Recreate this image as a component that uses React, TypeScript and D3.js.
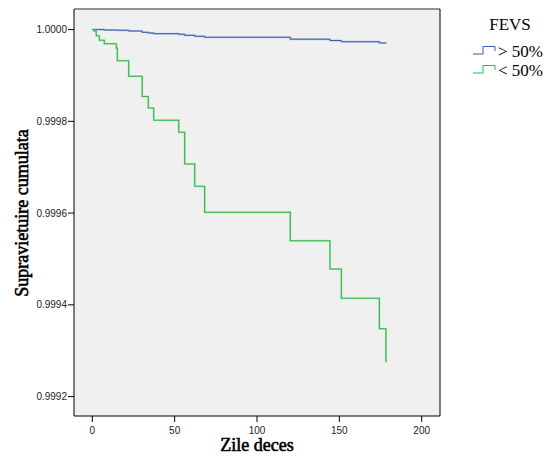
import React from "react";
import * as d3 from "d3";

const W = 556;
const H = 463;

// Kaplan-Meier steps: time (days) and cumulative survival after the event
const lowTimes = [0, 1.2, 2.4, 4.3, 7.3, 14.6, 15.2, 22.1, 30.3, 34.0, 37.3, 52.5, 56.1, 62.2, 68.2, 120.2, 144.3, 151.2, 174.3, 178.3];
const lowSurv = [1, 0.9999963, 0.9999867, 0.9999767, 0.9999693, 0.9999599, 0.9999322, 0.9998982, 0.9998542, 0.9998291, 0.9998023, 0.9997761, 0.999707, 0.9996584, 0.9996018, 0.9995396, 0.9994782, 0.9994143, 0.999348, 0.9992748];

const highTimes = [0, 7.3, 15.2, 22.1, 30.3, 34.0, 37.3, 52.5, 56.1, 62.2, 68.2, 120.2, 144.3, 151.2, 174.3, 178.3];
const highSurv = [1, 0.9999991, 0.9999985, 0.9999969, 0.9999941, 0.9999926, 0.9999911, 0.9999898, 0.9999876, 0.9999854, 0.9999833, 0.9999791, 0.9999762, 0.9999736, 0.9999708, 0.9999702];

const xTicks = [0, 50, 100, 150, 200];
const yTicks = [0.9992, 0.9994, 0.9996, 0.9998, 1.0];

const legendTitle = "FEVS";
const seriesNames = ["> 50%", "< 50%"];
const seriesColors = ["#3E58AC", "#2EB848"];

export default function App() {
  const left = 74, right = 440, top = 9, bottom = 416;
  const x = d3.scaleLinear().domain([-11.1, 211.1]).range([left, right]);
  const y = d3.scaleLinear().domain([0.9991577, 1.0000449]).range([bottom, top]);
  const line = d3
    .line<[number, number]>()
    .x((d) => x(d[0]))
    .y((d) => y(d[1]))
    .curve(d3.curveStepAfter);
  const high = highTimes.map((t, i) => [t, highSurv[i]] as [number, number]);
  const low = lowTimes.map((t, i) => [t, lowSurv[i]] as [number, number]);
  const fmt = d3.format(".4f");
  const sans = "'Liberation Sans', Arial, sans-serif";
  const serif = "Liberation Serif";
  const legendX = 473;
  const legendY = [54, 73];

  return (
    <svg width={W} height={H} style={{ position: "absolute", left: 0, top: 0, background: "#fff" }}>
      <rect x={left} y={top} width={right - left} height={bottom - top} fill="#f0f0f0" />
      <line x1={left} x2={right} y1={top} y2={top} stroke="#707070" strokeWidth={1.6} />
      <line x1={right} x2={right} y1={top} y2={bottom} stroke="#000" strokeWidth={1} />
      <line x1={left} x2={left} y1={top} y2={bottom} stroke="#000" strokeWidth={1} />
      <line x1={left} x2={right} y1={bottom} y2={bottom} stroke="#000" strokeWidth={1} />

      <path d={line(high) || ""} fill="none" stroke="#9aaadc" strokeWidth={2} opacity={0.6} />
      <path d={line(high) || ""} fill="none" stroke={seriesColors[0]} strokeWidth={1} />
      <path d={line(low) || ""} fill="none" stroke="#8fdc9d" strokeWidth={2} opacity={0.6} />
      <path d={line(low) || ""} fill="none" stroke={seriesColors[1]} strokeWidth={1.1} />

      {yTicks.map((t) => (
        <g key={t}>
          <line x1={left - 6} x2={left} y1={y(t)} y2={y(t)} stroke="#000" />
          <text x={left - 7} y={y(t) + 3.5} textAnchor="end" fontFamily={sans} fontSize={10} fill="#222">
            {fmt(t)}
          </text>
        </g>
      ))}
      {xTicks.map((t) => (
        <g key={t}>
          <line x1={x(t)} x2={x(t)} y1={bottom} y2={bottom + 6} stroke="#000" />
          <text x={x(t)} y={bottom + 18} textAnchor="middle" fontFamily={sans} fontSize={10} fill="#222">
            {t}
          </text>
        </g>
      ))}

      <text x={257} y={451} textAnchor="middle" fontFamily={serif} fontWeight="normal" fontSize={18} fill="#000" stroke="#000" strokeWidth={0.6}>
        Zile deces
      </text>
      <text
        transform={`translate(28, 213) rotate(-90)`}
        textAnchor="middle"
        fontFamily={serif}
        fontWeight="normal"
        fontSize={18}
        fill="#000"
        stroke="#000"
        strokeWidth={0.6}
      >
        Supravietuire cumulata
      </text>

      <text x={510} y={30} textAnchor="middle" fontFamily={serif} fontSize={17} fill="#000">
        {legendTitle}
      </text>
      {seriesNames.map((name, i) => (
        <g key={name}>
          <path
            d={`M${legendX},${legendY[i]} H${legendX + 10} V${legendY[i] - 7.5} H${legendX + 22} V${legendY[i] - 3}`}
            fill="none"
            stroke={seriesColors[i]}
            strokeWidth={1}
          />
          <text x={498} y={legendY[i] + 2.5} fontFamily={serif} fontSize={17} fill="#000">
            {name}
          </text>
        </g>
      ))}
    </svg>
  );
}
